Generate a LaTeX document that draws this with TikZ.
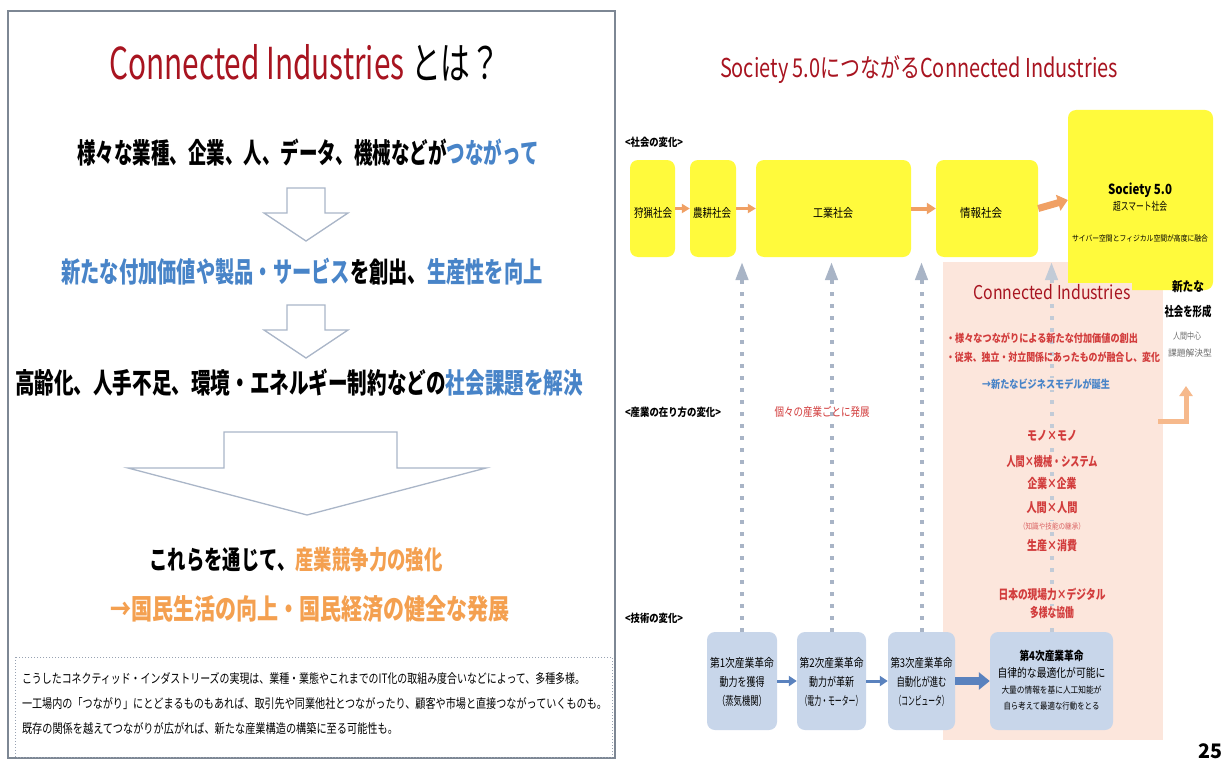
\documentclass[tikz,border=0pt]{standalone}
\usepackage{fontspec}
\setmainfont{Noto Sans CJK JP}
\usepackage{graphicx}
\usetikzlibrary{arrows.meta}
\definecolor{cired}{RGB}{168,20,32}
\definecolor{ltblue}{RGB}{72,132,200}
\definecolor{orng}{RGB}{244,160,80}
\definecolor{framec}{RGB}{125,135,148}
\definecolor{hollow}{RGB}{170,182,200}
\definecolor{ylw}{RGB}{255,250,60}
\definecolor{pinkbg}{RGB}{252,230,220}
\definecolor{bboxc}{RGB}{200,214,234}
\definecolor{dotc}{RGB}{168,180,198}
\definecolor{sarrow}{RGB}{240,160,100}
\definecolor{barrow}{RGB}{90,130,190}
\definecolor{redtxt}{RGB}{210,60,60}
\definecolor{larrow}{RGB}{246,185,140}
\definecolor{graytxt}{RGB}{110,110,110}
\definecolor{dottedbox}{RGB}{152,162,178}
\newcommand{\tw}[3]{\resizebox{#1pt}{\height}{\fontsize{#2pt}{#2pt}\selectfont #3}}
\begin{document}
\begin{tikzpicture}[x=1pt,y=-1pt,
  t/.style={inner sep=0pt, outer sep=0pt},
  tp/.style={inner sep=1pt, outer sep=0pt, fill=pinkbg},
  ybox/.style={fill=ylw, rounded corners=8pt, draw=none, inner sep=0pt},
  bbx/.style={fill=bboxc, rounded corners=8pt, draw=none, inner sep=0pt},
  hollowar/.style={draw=hollow, line width=1.3pt, fill=white, line join=miter},
  socar/.style={draw=sarrow, -{Triangle[length=8pt,width=9pt]}},
  tecar/.style={draw=barrow, -{Triangle[length=8pt,width=10pt]}},
  dotar/.style={draw=dotc, line width=4pt, dash pattern=on 4pt off 8pt, -{Triangle[length=18pt,width=12pt]}}
]
\fill[white] (0,0) rectangle (1225,765);
\useasboundingbox (0,0) rectangle (1225,765);

% ---------------- left panel ----------------
\draw[framec, line width=1.5pt] (8,11) rectangle (615,758);

\node[t] (ltitle) at (305,63) {\tw{391}{44}{\textcolor{cired}{Connected Industries} とは？}};
\node[t] (l1) at (308,153) {\tw{461}{28}{\bfseries 様々な業種、企業、人、データ、機械などが\textcolor{ltblue}{つながって}}};
\draw[hollowar] (287,188) -- (325,188) -- (325,213) -- (348,213) -- (306,241) -- (264,213) -- (287,213) -- cycle;
\node[t] (l2) at (302,272) {\tw{481}{28}{\bfseries \textcolor{ltblue}{新たな付加価値や製品・サービス}を創出、\textcolor{ltblue}{生産性を向上}}};
\draw[hollowar] (287,305) -- (325,305) -- (325,330) -- (348,330) -- (306,358) -- (264,330) -- (287,330) -- cycle;
\node[t] (l3) at (299,383) {\tw{568}{28}{\bfseries 高齢化、人手不足、環境・エネルギー制約などの\textcolor{ltblue}{社会課題を解決}}};
\draw[hollowar] (224,432) -- (397,432) -- (397,468) -- (486,468) -- (307,515) -- (128,468) -- (224,468) -- cycle;
\node[t] (l4) at (296,560) {\tw{293}{26}{\bfseries これらを通じて、\textcolor{orng}{産業競争力の強化}}};
\node[t] (l5) at (310,609) {\tw{400}{28}{\bfseries \textcolor{orng}{→国民生活の向上・国民経済の健全な発展}}};

\draw[dottedbox, line width=1pt, dotted] (15,657) rectangle (612,757);
\node[t, anchor=west] (n1) at (22,679) {\tw{563}{13}{こうしたコネクティッド・インダストリーズの実現は、業種・業態やこれまでのIT化の取組み度合いなどによって、多種多様。}};
\node[t, anchor=west] (n2) at (22,704) {\tw{585}{13}{一工場内の「つながり」にとどまるものもあれば、取引先や同業他社とつながったり、顧客や市場と直接つながっていくものも。}};
\node[t, anchor=west] (n3) at (22,729) {\tw{376}{13}{既存の関係を越えてつながりが広がれば、新たな産業構造の構築に至る可能性も。}};

% ---------------- right panel ----------------
\node[t] (rtitle) at (919,70) {\tw{398}{26}{\color{cired}Society 5.0につながるConnected Industries}};

\fill[pinkbg] (943,262) rectangle (1163,740);

\node[t, anchor=west] (lab1) at (625,142) {\tw{58}{11}{\bfseries <社会の変化>}};
\node[t, anchor=west] (lab2) at (625,412) {\tw{96}{11}{\bfseries <産業の在り方の変化>}};
\node[t, anchor=west] (lab3) at (625,618) {\tw{58}{11}{\bfseries <技術の変化>}};

% technology boxes
\node[bbx, minimum width=70pt, minimum height=98pt] (r1) at (742,681) {};
\node[bbx, minimum width=69pt, minimum height=98pt] (r2) at (831.5,681) {};
\node[bbx, minimum width=67pt, minimum height=98pt] (r3) at (921.5,681) {};
\node[bbx, minimum width=123pt, minimum height=98pt] (r4) at (1051.5,681) {};

% dotted upward arrows
\coordinate (d1) at (742,262);
\coordinate (d2) at (831.5,262);
\coordinate (d3) at (921.5,262);
\coordinate (d4) at (1051.5,262);
\draw[dotar] (r1.north) -- (d1);
\draw[dotar] (r2.north) -- (d2);
\draw[dotar] (r3.north) -- (d3);
\draw[dotar, draw=dotc!70] (r4.north) -- (d4);

% society boxes
\node[ybox, minimum width=45pt, minimum height=97pt] (hunt) at (652.5,208.5) {};
\node[ybox, minimum width=46pt, minimum height=97pt] (agri) at (713,208.5) {};
\node[ybox, minimum width=155pt, minimum height=97pt] (indu) at (833.5,208.5) {};
\node[ybox, minimum width=102pt, minimum height=97pt] (info) at (987,208.5) {};
\node[ybox, minimum width=145pt, minimum height=180pt] (s50) at (1140.5,200) {};

\node[t] (thunt) at (653,213) {\tw{38}{12}{狩猟社会}};
\node[t] (tagri) at (712,213) {\tw{38}{12}{農耕社会}};
\node[t] (tindu) at (833,213) {\tw{40}{12}{工業社会}};
\node[t] (tinfo) at (981,213) {\tw{42}{12}{情報社会}};
\node[t] (ts1) at (1140,190) {\tw{64}{14}{\bfseries Society 5.0}};
\node[t] (ts2) at (1140,206) {\tw{54}{11}{超スマート社会}};
\node[t] (ts3) at (1140,238) {\tw{136}{8}{サイバー空間とフィジカル空間が高度に融合}};

\draw[socar, line width=3pt] (hunt.east) -- (agri.west);
\draw[socar, line width=3pt] (agri.east) -- (indu.west);
\draw[socar, line width=4pt, -{Triangle[length=9pt,width=11pt]}] (indu.east) -- (info.west);
\draw[socar, line width=7pt, -{Triangle[length=10pt,width=16pt]}] (info.east) -- (s50.west);

% Connected Industries contents
\node[tp] (cit) at (1052,292) {\tw{157}{19}{\color{cired}Connected Industries}};
\node[t, anchor=west] (b1) at (946,338) {\tw{192}{11}{\bfseries\color{redtxt}・様々なつながりによる新たな付加価値の創出}};
\node[t, anchor=west] (b2) at (946,357) {\tw{214}{11}{\bfseries\color{redtxt}・従来、独立・対立関係にあったものが融合し、変化}};
\node[tp] (b3) at (1046,384) {\tw{128}{11}{\bfseries\color{ltblue}→新たなビジネスモデルが誕生}};

\node[t] (ns1) at (1188,287) {\tw{32}{13}{\bfseries 新たな}};
\node[t] (ns2) at (1188,312) {\tw{47}{13}{\bfseries 社会を形成}};
\node[t] (ns3) at (1187,336) {\tw{28}{9}{\color{graytxt}人間中心}};
\node[t] (ns4) at (1190,353) {\tw{44}{9}{\color{graytxt}課題解決型}};

\coordinate (la) at (1158,421);
\coordinate (lb) at (1186,421);
\coordinate (lc) at (1186,386);
\draw[larrow, line width=5pt, -{Triangle[length=10pt,width=13pt]}] (la) -- (lb) -- (lc);

\node[t] (indiv) at (822,412) {\tw{95}{12}{\color{redtxt}個々の産業ごとに発展}};

\node[tp] (c1) at (1052,436) {\tw{50}{13}{\bfseries\color{redtxt}モノ×モノ}};
\node[tp] (c2) at (1052,462) {\tw{91}{13}{\bfseries\color{redtxt}人間×機械・システム}};
\node[tp] (c3) at (1052,484) {\tw{49}{13}{\bfseries\color{redtxt}企業×企業}};
\node[tp] (c4) at (1052,508) {\tw{51}{13}{\bfseries\color{redtxt}人間×人間}};
\node[tp] (c5) at (1052,526) {\tw{66}{8}{\color{redtxt!80}（知識や技能の継承）}};
\node[tp] (c6) at (1052,546) {\tw{50}{13}{\bfseries\color{redtxt}生産×消費}};
\node[tp] (c7) at (1052,594) {\tw{107}{13}{\bfseries\color{redtxt}日本の現場力×デジタル}};
\node[tp] (c8) at (1052,613) {\tw{44}{13}{\bfseries\color{redtxt}多様な協働}};

% technology box texts
\node[t] (r1a) at (742,663) {\tw{64}{12}{第1次産業革命}};
\node[t] (r1b) at (742,682) {\tw{45}{12}{動力を獲得}};
\node[t] (r1c) at (742,701) {\tw{50}{12}{（蒸気機関）}};
\node[t] (r2a) at (831.5,663) {\tw{64}{12}{第2次産業革命}};
\node[t] (r2b) at (831.5,682) {\tw{45}{12}{動力が革新}};
\node[t] (r2c) at (831.5,701) {\tw{62}{12}{（電力・モーター）}};
\node[t] (r3a) at (921.5,663) {\tw{62}{12}{第3次産業革命}};
\node[t] (r3b) at (921.5,682) {\tw{50}{12}{自動化が進む}};
\node[t] (r3c) at (921.5,701) {\tw{54}{12}{（コンピュータ）}};
\node[t] (r4a) at (1051.5,656) {\tw{64}{12}{\bfseries 第4次産業革命}};
\node[t] (r4b) at (1051.5,673) {\tw{108}{12}{自律的な最適化が可能に}};
\node[t] (r4c) at (1051.5,690) {\tw{100}{9}{大量の情報を基に人工知能が}};
\node[t] (r4d) at (1051.5,706) {\tw{96}{9}{自ら考えて最適な行動をとる}};

\draw[tecar, line width=3pt] (r1.east) -- (r2.west);
\draw[tecar, line width=3pt] (r2.east) -- (r3.west);
\draw[tecar, line width=8pt, -{Triangle[length=11pt,width=17pt]}] (r3.east) -- (r4.west);

\node[t] (pg) at (1210,751) {\tw{24}{20}{\bfseries 25}};
\end{tikzpicture}
\end{document}
